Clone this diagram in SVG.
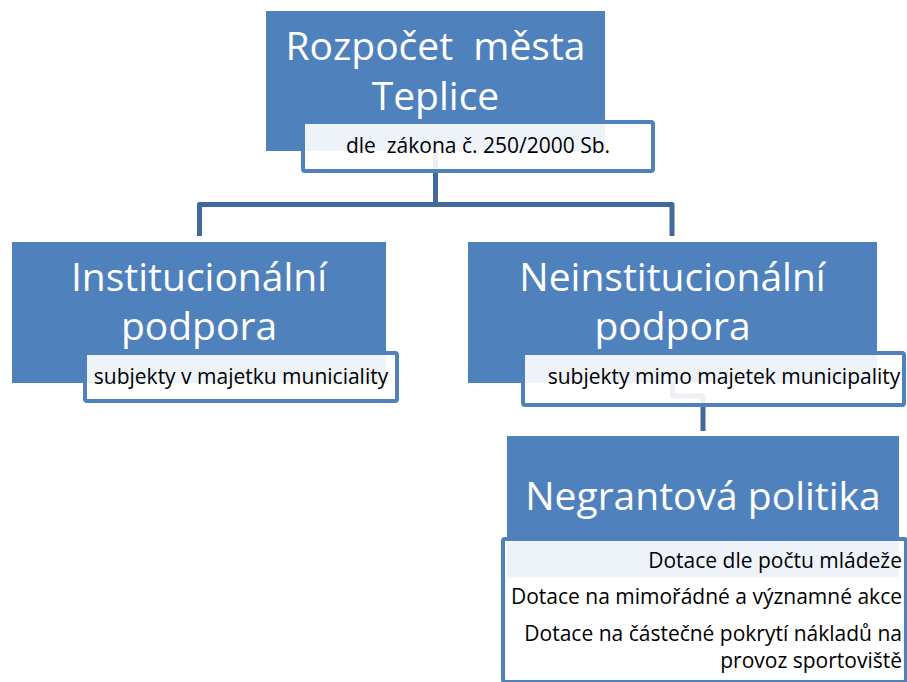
<svg xmlns="http://www.w3.org/2000/svg" width="907" height="682" viewBox="0 0 907 682">
  <style>
    .box { fill: #4f81bd; }
    .sub { fill: #ffffff; fill-opacity: 0.9; stroke: #4f81bd; stroke-width: 4; }
    .conn { fill: none; stroke: #41699a; stroke-width: 5; stroke-linejoin: round; }
    .title { font-family: "Open Sans", "Noto Sans", sans-serif; font-size: 39px; fill: #ffffff; text-anchor: middle; }
    .txt { font-family: "Open Sans", "Noto Sans", sans-serif; font-size: 21px; fill: #000000; white-space: pre; }
    .mid { text-anchor: middle; }
    .end { text-anchor: end; }
  </style>
  <rect width="907" height="682" fill="#ffffff"/>
  <g id="connectors">
    <path class="conn" d="M435.5 151 V204.5"/>
    <path class="conn" d="M199.5 236 V204.5 H672 V236"/>
    <path class="conn" d="M672.5 383 V396 H703 V431"/>
  </g>
  <g id="node-rozpocet">
    <rect class="box" x="266" y="11" width="339" height="140"/>
    <text class="title" x="435.5" y="60" xml:space="preserve">Rozpočet  města</text>
    <text class="title" x="435.5" y="110">Teplice</text>
    <rect class="sub" x="303" y="122" width="350" height="49" rx="2"/>
    <text class="txt mid" x="478" y="153" xml:space="preserve">dle  zákona č. 250/2000 Sb.</text>
  </g>
  <g id="node-institucionalni">
    <rect class="box" x="12" y="242" width="374" height="141"/>
    <text class="title" x="199" y="291">Institucionální</text>
    <text class="title" x="199" y="340">podpora</text>
    <rect class="sub" x="85" y="353" width="312" height="48" rx="2"/>
    <text class="txt mid" x="241" y="384">subjekty v majetku municiality</text>
  </g>
  <g id="node-neinstitucionalni">
    <rect class="box" x="468" y="242" width="409" height="141"/>
    <text class="title" x="672.5" y="291">Neinstitucionální</text>
    <text class="title" x="672.5" y="340">podpora</text>
    <rect class="sub" x="523" y="353" width="381" height="52" rx="2"/>
    <text class="txt mid" x="724" y="384">subjekty mimo majetek municipality</text>
  </g>
  <g id="node-negrantova">
    <rect class="box" x="507" y="436" width="392" height="141"/>
    <text class="title" x="703" y="510">Negrantová politika</text>
    <rect class="sub" x="503" y="539" width="403" height="143" rx="2"/>
    <text class="txt end" x="902" y="568">Dotace dle počtu mládeže</text>
    <text class="txt end" x="902" y="604">Dotace na mimořádné a významné akce</text>
    <text class="txt end" x="902" y="641">Dotace na částečné pokrytí nákladů na</text>
    <text class="txt end" x="902" y="668">provoz sportoviště</text>
  </g>
</svg>
